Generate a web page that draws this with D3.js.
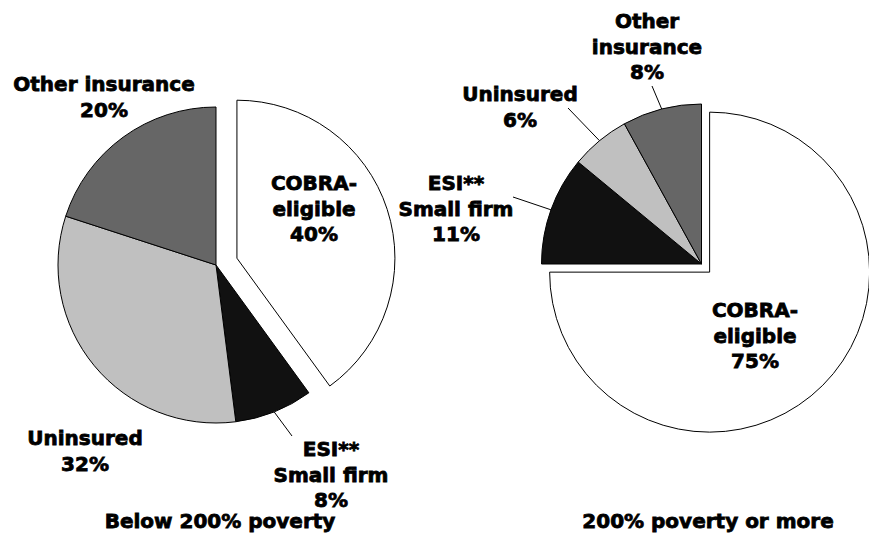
<!DOCTYPE html>
<html>
<head>
<meta charset="utf-8">
<script src="https://cdn.jsdelivr.net/npm/d3@7"></script>
<style>
  body { margin: 0; background: #fff; }
  text { font-family: "DejaVu Sans", sans-serif; font-weight: bold; font-size: 20px; fill: #000;
         stroke: #000; stroke-width: 0.8px; }
</style>
</head>
<body>
<div id="visualization"></div>
<script>
let w = 869;
let h = 535;

// data
let categories = ["COBRA-eligible", "ESI** Small firm", "Uninsured", "Other insurance"];
let below200 = [40, 8, 32, 20];
let above200 = [75, 11, 6, 8];
let panelTitles = ["Below 200% poverty", "200% poverty or more"];
let fills = ["#ffffff", "#111111", "#c0c0c0", "#666666"];

// label text lines (percent added from data)
let labelsLeft = [["COBRA-", "eligible"], ["ESI**", "Small firm"], ["Uninsured"], ["Other insurance"]];
let labelsRight = [["COBRA-", "eligible"], ["ESI**", "Small firm"], ["Uninsured"], ["Other", "insurance"]];

// layout for each pie
let panels = [
  { values: below200, labels: labelsLeft, title: panelTitles[0],
    cx: 216, cy: 265, r: 158, explode: 22, titleX: 220,
    labelPos: [[314, 190], [331, 456], [85, 445], [104, 91]],
    leaderEnd: [null, [292, 436], null, null] },
  { values: above200, labels: labelsRight, title: panelTitles[1],
    cx: 701.5, cy: 264, r: 160, explode: 11.5, titleX: 708,
    labelPos: [[755, 317], [456, 190], [520, 101], [647, 28]],
    leaderEnd: [null, [513, 197], [568, 108], [652, 86]] }
];

let lineGap = 25.5;

let viz = d3.select("#visualization")
  .append("svg")
  .attr("width", w)
  .attr("height", h)
;

let pie = d3.pie().sort(null).value(d => d);

panels.forEach(function(p){
  let arcs = pie(p.values);
  let arc = d3.arc().innerRadius(0).outerRadius(p.r);

  let g = viz.append("g").attr("transform", "translate(" + p.cx + "," + p.cy + ")");

  // slices, first one (COBRA) pulled out
  g.selectAll(".slice").data(arcs).enter()
    .append("path")
    .attr("class", "slice")
    .attr("d", arc)
    .attr("fill", (d, i) => fills[i])
    .attr("stroke", "#000")
    .attr("stroke-width", 1)
    .attr("stroke-linejoin", "miter")
    .attr("transform", function(d, i){
      if (i != 0) return null;
      let mid = (d.startAngle + d.endAngle) / 2;
      return "translate(" + (Math.sin(mid) * p.explode) + "," + (-Math.cos(mid) * p.explode) + ")";
    })
  ;

  // leader lines from slice edge to label
  arcs.forEach(function(d, i){
    let end = p.leaderEnd[i];
    if (!end) return;
    let mid = (d.startAngle + d.endAngle) / 2;
    viz.append("line")
      .attr("x1", p.cx + Math.sin(mid) * p.r)
      .attr("y1", p.cy - Math.cos(mid) * p.r)
      .attr("x2", end[0])
      .attr("y2", end[1])
      .attr("stroke", "#000")
      .attr("stroke-width", 1)
    ;
  });

  // labels
  arcs.forEach(function(d, i){
    let lines = p.labels[i].concat([p.values[i] + "%"]);
    let t = viz.append("text")
      .attr("text-anchor", "middle")
      .attr("x", p.labelPos[i][0])
      .attr("y", p.labelPos[i][1]);
    lines.forEach(function(s, k){
      t.append("tspan")
        .attr("x", p.labelPos[i][0])
        .attr("dy", k == 0 ? 0 : lineGap)
        .text(s);
    });
  });

  viz.append("text")
    .attr("text-anchor", "middle")
    .attr("x", p.titleX)
    .attr("y", 528)
    .text(p.title);
});
</script>
</body>
</html>
